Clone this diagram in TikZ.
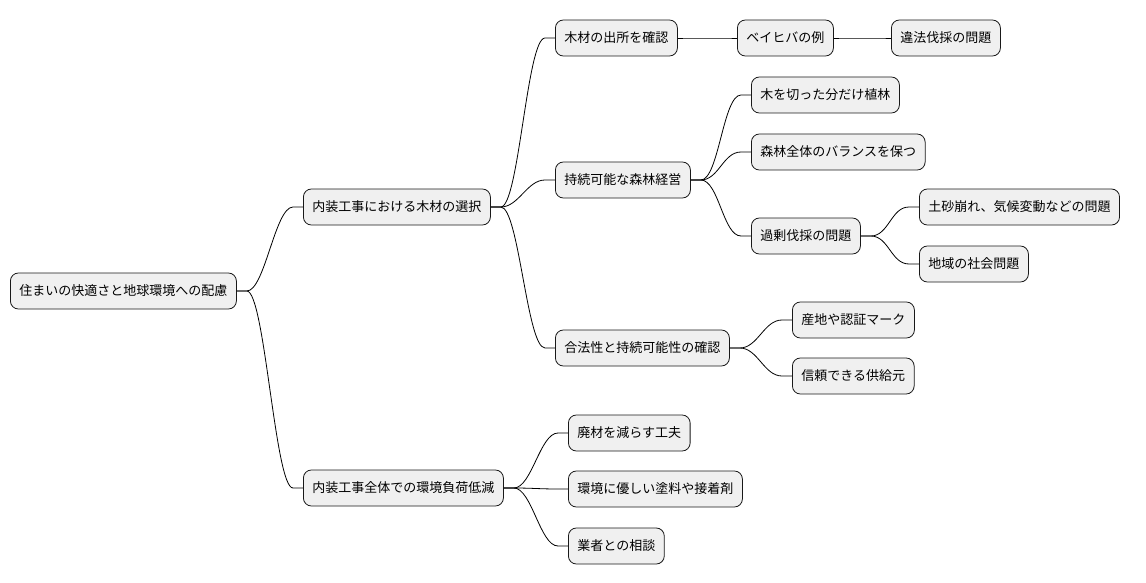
\documentclass[tikz,border=0pt]{standalone}
\usepackage{fontspec}
\setmainfont{Noto Sans CJK JP}
\usetikzlibrary{calc}
\newcommand{\conn}[2]{\draw[line width=0.8pt] (#1.east) -- ++(10,0) coordinate (p1) .. controls ($(p1)+(18,0)$) and ($(#2.west)+(-28,0)$) .. ($(#2.west)+(-10,0)$) -- (#2.west);}
\begin{document}
\begin{tikzpicture}[x=1pt,y=-1pt,
  box/.style={draw=black!90,line width=0.8pt,fill=black!6,rounded corners=8pt,minimum height=36pt,inner xsep=9pt,font=\fontsize{13}{15}\selectfont}]
\useasboundingbox (0,0) rectangle (1146,583);
\node[box,anchor=west] (r) at (10,291) {住まいの快適さと地球環境への配慮};
\node[box,anchor=west] (a) at (303,207) {内装工事における木材の選択};
\node[box,anchor=west] (b) at (303,488) {内装工事全体での環境負荷低減};
\node[box,anchor=west] (a1) at (555,38) {木材の出所を確認};
\node[box,anchor=west] (a11) at (737,38) {ベイヒバの例};
\node[box,anchor=west] (a111) at (891,38) {違法伐採の問題};
\node[box,anchor=west] (a2) at (555,180) {持続可能な森林経営};
\node[box,anchor=west] (a21) at (751,95) {木を切った分だけ植林};
\node[box,anchor=west] (a22) at (751,152) {森林全体のバランスを保つ};
\node[box,anchor=west] (a23) at (751,236) {過剰伐採の問題};
\node[box,anchor=west] (a231) at (919,207) {土砂崩れ、気候変動などの問題};
\node[box,anchor=west] (a232) at (919,264) {地域の社会問題};
\node[box,anchor=west] (a3) at (555,348) {合法性と持続可能性の確認};
\node[box,anchor=west] (a31) at (792,320) {産地や認証マーク};
\node[box,anchor=west] (a32) at (792,376) {信頼できる供給元};
\node[box,anchor=west] (b1) at (568,433) {廃材を減らす工夫};
\node[box,anchor=west] (b2) at (568,489) {環境に優しい塗料や接着剤};
\node[box,anchor=west] (b3) at (568,546) {業者との相談};
\conn{r}{a}\conn{r}{b}
\conn{a}{a1}\conn{a}{a2}\conn{a}{a3}
\conn{a1}{a11}\conn{a11}{a111}
\conn{a2}{a21}\conn{a2}{a22}\conn{a2}{a23}
\conn{a23}{a231}\conn{a23}{a232}
\conn{a3}{a31}\conn{a3}{a32}
\conn{b}{b1}\conn{b}{b2}\conn{b}{b3}
\end{tikzpicture}
\end{document}
